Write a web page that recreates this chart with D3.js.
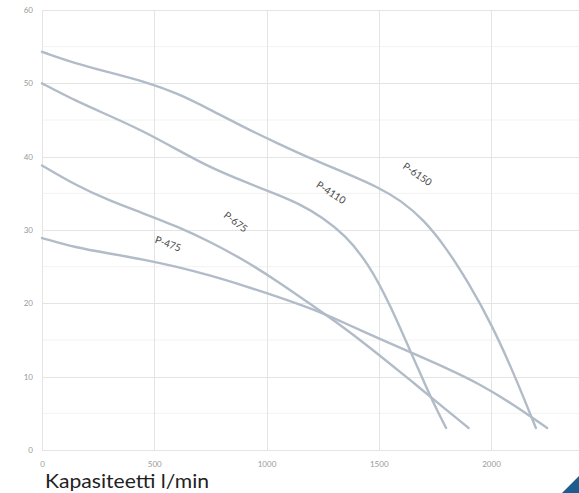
<!DOCTYPE html>
<html><head><meta charset="utf-8">
<script src="https://cdn.jsdelivr.net/npm/d3@7"></script>
<style>body{margin:0;background:#fff}svg{display:block}</style>
</head><body>
<script>
const xTicks = [0, 500, 1000, 1500, 2000];
const yTicks = [0, 10, 20, 30, 40, 50, 60];
const yMinor = [5, 15, 25, 35, 45, 55];
const seriesNames = ["P-6150", "P-4110", "P-675", "P-475"];
const p6150 = [[0,54.3],[150,52.7],[300,51.5],[450,50.3],[600,48.7],[750,46.4],[900,44.0],[1050,41.8],[1200,39.7],[1350,37.8],[1500,35.8],[1600,34.0],[1700,31.4],[1800,27.6],[1900,22.8],[2000,17.3],[2100,10.6],[2200,3.0]];
const p4110 = [[0,50.0],[150,47.6],[300,45.6],[450,43.5],[600,41.0],[750,38.5],[900,36.6],[1050,34.8],[1150,33.5],[1250,31.7],[1350,29.3],[1450,25.6],[1550,19.9],[1650,12.8],[1700,9.4],[1750,6.0],[1800,3.0]];
const p675 = [[0,38.8],[150,36.1],[300,34.0],[450,32.3],[600,30.5],[750,28.4],[900,25.9],[1050,23.0],[1200,19.8],[1350,16.6],[1500,13.0],[1650,9.3],[1800,5.5],[1900,3.0]];
const p475 = [[0,28.9],[150,27.6],[300,26.8],[450,26.0],[600,25.0],[750,23.8],[900,22.4],[1050,20.9],[1200,19.3],[1350,17.3],[1500,15.2],[1650,13.2],[1800,11.2],[1950,9.0],[2100,6.2],[2250,3.0]];
const seriesData = [p6150, p4110, p675, p475];
// label anchor positions (data units) and rotation
const labelPos = [[1670,37.5,35],[1285,35.0,33],[860,31.0,38],[560,28.0,20]];
const xTitle = "Kapasiteetti l/min";

const W = 579, H = 493;
const svg = d3.select("body").append("svg").attr("width", W).attr("height", H);
const x = d3.scaleLinear().domain([0, 2400]).range([42, 580.8]);
const y = d3.scaleLinear().domain([0, 60]).range([450, 10]);

// minor grid
svg.append("g").selectAll("line").data(yMinor).join("line")
  .attr("x1", x(0)).attr("x2", W).attr("y1", d => y(d)).attr("y2", d => y(d))
  .attr("stroke", "#f2f2f2").attr("stroke-width", 1);
// major grid
svg.append("g").selectAll("line").data(yTicks).join("line")
  .attr("x1", x(0)).attr("x2", W).attr("y1", d => Math.round(y(d)) + 0.5).attr("y2", d => Math.round(y(d)) + 0.5)
  .attr("stroke", "#e4e4e4").attr("stroke-width", 1);
svg.append("g").selectAll("line").data(xTicks).join("line")
  .attr("y1", y(60)).attr("y2", y(0)).attr("x1", d => Math.round(x(d)) + 0.5).attr("x2", d => Math.round(x(d)) + 0.5)
  .attr("stroke", "#e4e4e4").attr("stroke-width", 1);

// axes
const yAxis = d3.axisLeft(y).tickValues(yTicks).tickSize(0).tickPadding(9).tickFormat(d3.format("d"));
const gy = svg.append("g").attr("transform", `translate(${x(0)},0)`).call(yAxis);
const xAxis = d3.axisBottom(x).tickValues(xTicks).tickSize(0).tickPadding(11).tickFormat(d3.format("d"));
const gx = svg.append("g").attr("transform", `translate(0,${y(0)})`).call(xAxis);
[gy, gx].forEach(g => {
  g.select(".domain").remove();
  g.selectAll("text").attr("fill", "#999").attr("font-family", "Lato, sans-serif").attr("font-size", 8);
});

// curves
const line = d3.line().x(d => x(d[0])).y(d => y(d[1])).curve(d3.curveBasis);
svg.append("g").selectAll("path").data(seriesData).join("path")
  .attr("d", line).attr("fill", "none").attr("stroke", "#b2bcc9").attr("stroke-width", 2.4)
  .attr("stroke-linecap", "round");

// labels
svg.append("g").selectAll("text").data(seriesNames).join("text")
  .attr("transform", (d, i) => `translate(${x(labelPos[i][0])},${y(labelPos[i][1])}) rotate(${labelPos[i][2]})`)
  .attr("text-anchor", "middle").attr("dominant-baseline", "middle")
  .attr("font-family", "Lato, sans-serif").attr("font-size", 10).attr("fill", "#4a4a4a")
  .text(d => d);

// x title
svg.append("text").attr("x", 45).attr("y", 488)
  .attr("font-family", "Lato, sans-serif").attr("font-size", 20).attr("fill", "#222")
  .attr("textLength", 164).attr("lengthAdjust", "spacingAndGlyphs")
  .text(xTitle);

// corner triangle
svg.append("path").attr("d", `M${W},${H-17}L${W},${H}L${W-17},${H}Z`).attr("fill", "#1d5c8c");
</script>
</body></html>
